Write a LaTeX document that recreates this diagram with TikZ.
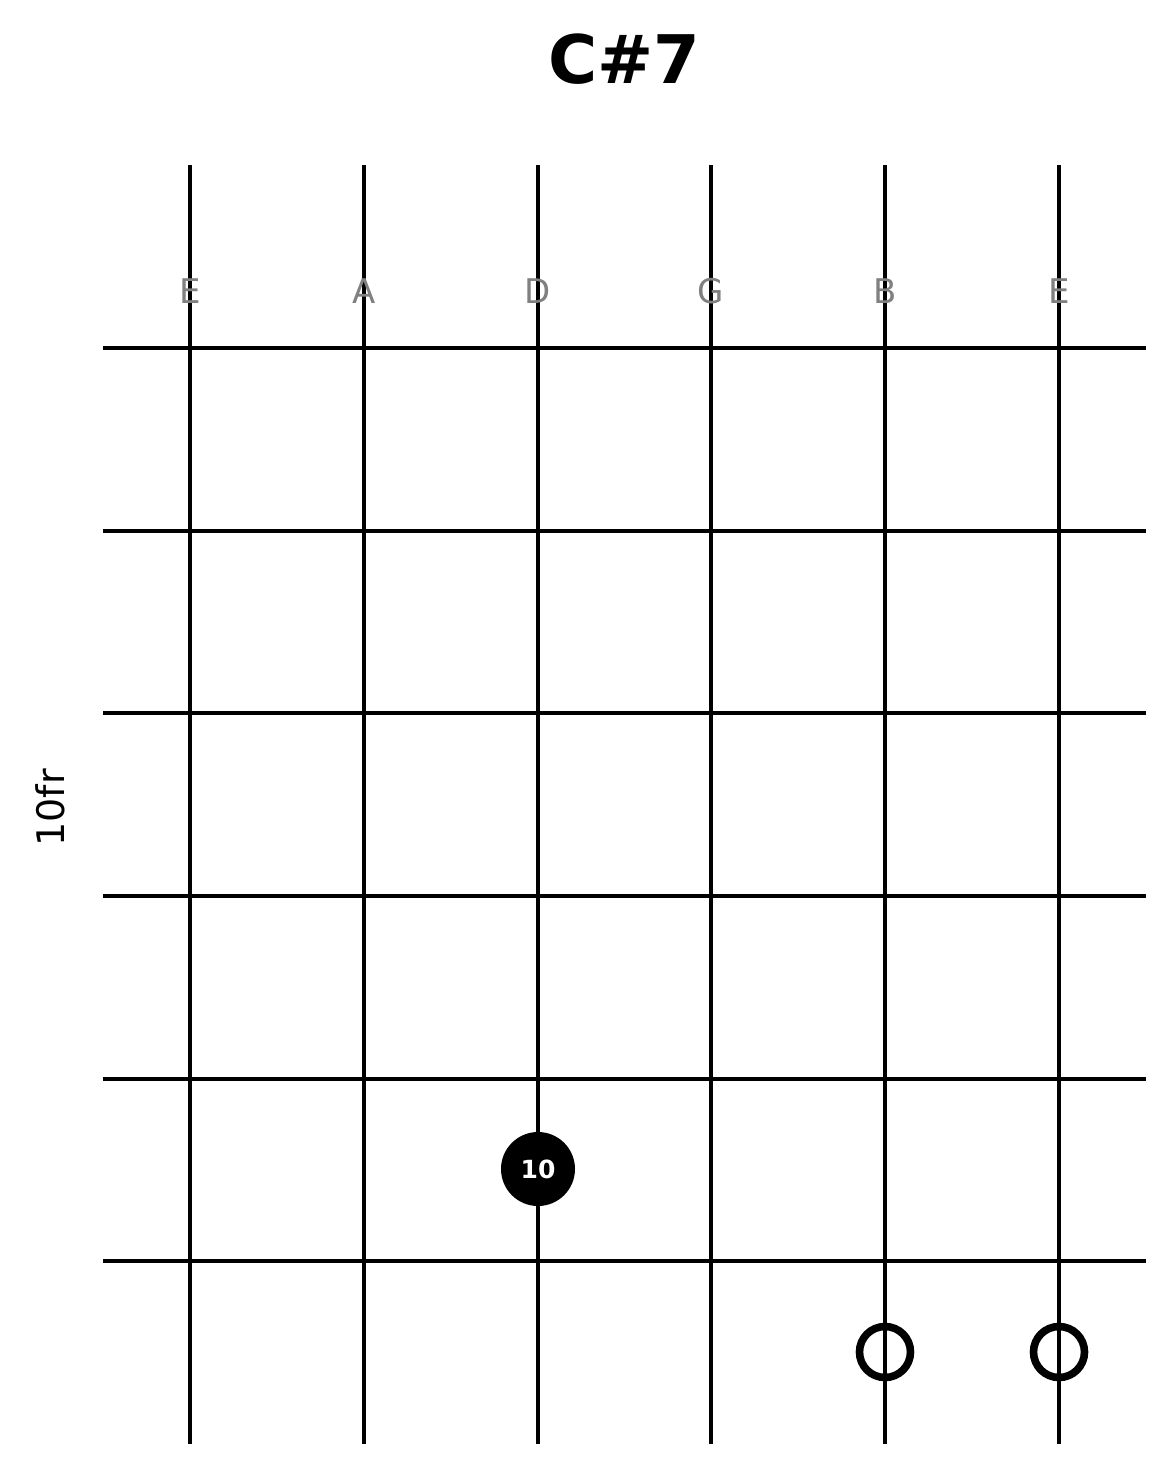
\documentclass[tikz,border=0pt]{standalone}
\usepackage{fontspec}
\setmainfont{DejaVu Sans}
\usepackage{xcolor}
\usepackage{tikz}
\definecolor{InkBlack} {RGB}{0,   0,   0}
\definecolor{LabelGray}{RGB}{128, 128, 128}

\begin{document}
\begin{tikzpicture}[x=0.5pt, y=-0.5pt,
    gridline/.style={InkBlack, line width=2pt},
    stringname/.style={LabelGray, font=\fontsize{17}{17}\selectfont},
    fingerdot/.style={circle, fill=InkBlack, minimum size=37pt, inner sep=0pt,
      text=white, font=\fontsize{12.5}{12.5}\selectfont\bfseries},
    openmark/.style={circle, draw=InkBlack, line width=3.8pt, minimum size=25.5pt, inner sep=0pt}]
        \useasboundingbox (0,0) rectangle (1175,1474);

        % strings
        \foreach \sx in {190, 364, 538, 711, 885, 1059}
          \draw[gridline] (\sx,165) -- (\sx,1444);
        % frets
        \foreach \fy in {348, 531, 713, 896, 1079, 1261}
          \draw[gridline] (103,\fy) -- (1146,\fy);

        \node[font=\fontsize{33.5}{33.5}\selectfont\bfseries] (title) at (624,59) {C\#7};

        \node[stringname] (lowE) at (190,291) {E};
        \node[stringname] (strA) at (364,291) {A};
        \node[stringname] (strD) at (538,291) {D};
        \node[stringname] (strG) at (711,291) {G};
        \node[stringname] (strB) at (885,291) {B};
        \node[stringname] (highE) at (1059,291) {E};

        \node[rotate=90, font=\fontsize{19}{19}\selectfont] (basefret) at (50,808) {10fr};

        \node[fingerdot] (dotD) at (538,1169) {10};
        \node[openmark] (openB) at (885,1352) {};
        \node[openmark] (openE) at (1059,1352) {};
      \end{tikzpicture}
\end{document}
